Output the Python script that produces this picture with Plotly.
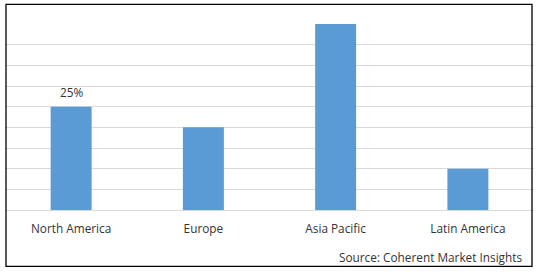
import plotly.graph_objects as go

categories = ["North America", "Europe", "Asia Pacific", "Latin America"]
values = [25, 20, 45, 10]
labels = ["25%", "", "", ""]
source_text = "Source: Coherent Market Insights"

FONT = "Open Sans"
FS = 11.8
TXT = "#333333"
W, H = 538, 272
L, R, T, B = 5, 4, 24, 62
pw, ph = W - L - R, H - T - B

def px_x(x):
    return (x - L) / pw

def px_y(y):
    return (H - B - y) / ph

fig = go.Figure()
fig.add_trace(go.Bar(
    x=categories, y=values,
    marker=dict(color="#5B9BD5", line=dict(width=0)),
    width=0.31,
))

annotations = []
for c, v, t in zip(categories, values, labels):
    if t:
        annotations.append(dict(x=c, y=v, xref="x", yref="y", text=t, showarrow=False,
                                yanchor="bottom", yshift=5,
                                font=dict(family=FONT, size=FS, color=TXT)))
annotations.append(dict(x=px_x(524), y=px_y(256.7), xref="paper", yref="paper",
                        text=source_text, showarrow=False, xanchor="right", yanchor="middle",
                        font=dict(family=FONT, size=FS, color=TXT)))

fig.update_layout(
    width=W, height=H,
    margin=dict(l=L, r=R, t=T, b=B, pad=0),
    paper_bgcolor="white", plot_bgcolor="white",
    showlegend=False,
    bargap=0.69,
    annotations=annotations,
    shapes=[dict(type="rect", xref="paper", yref="paper",
                 x0=px_x(6), x1=px_x(532), y0=px_y(266.3), y1=px_y(4.3),
                 line=dict(color="black", width=1.3), fillcolor="rgba(0,0,0,0)", layer="above")],
    xaxis=dict(showgrid=False, showline=False, zeroline=False,
               ticks="outside", ticklen=8, tickcolor="rgba(0,0,0,0)",
               tickfont=dict(family=FONT, size=FS, color=TXT)),
    yaxis=dict(range=[0, 45], dtick=5, showgrid=True, gridcolor="#D9D9D9", gridwidth=1,
               zeroline=True, zerolinecolor="#D9D9D9", zerolinewidth=1,
               showticklabels=False, showline=False, ticks=""),
)

fig.write_html("out.html")
